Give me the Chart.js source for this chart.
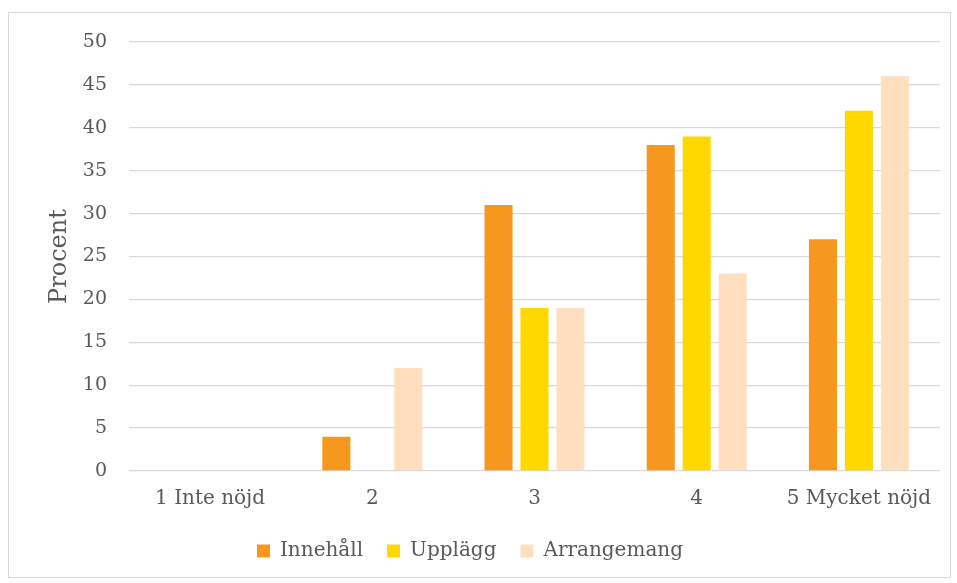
<!DOCTYPE html>
<html>
<head>
<meta charset="utf-8">
<script src="https://cdn.jsdelivr.net/npm/chart.js@4/dist/chart.umd.min.js"></script>
<style>
  html, body { margin: 0; padding: 0; background: #fff; }
  #frame { position: absolute; left: 8px; top: 12px; width: 941px; height: 564px; border: 1px solid #d9d9d9; }
  #wrap { position: absolute; left: 0; top: 0; width: 957px; height: 583px; }
</style>
</head>
<body>
<div id="frame"></div>
<div id="wrap"><canvas id="chart" width="957" height="583"></canvas></div>
<script>
    const categories = ['1 Inte nöjd', '2', '3', '4', '5 Mycket nöjd'];
    const innehall = [0, 4, 31, 38, 27];
    const upplagg = [0, 0, 19, 39, 42];
    const arrangemang = [0, 12, 19, 23, 46];
    const seriesNames = ['Innehåll', 'Upplägg', 'Arrangemang'];
    const seriesColors = ['#F7981E', '#FFD800', '#FFDFBF'];

    const font = 'DejaVu Serif';
    const textColor = '#595959';

    document.addEventListener('DOMContentLoaded', function() {
        const canvas = document.getElementById('chart');

        new Chart(canvas, {
            type: 'bar',
            data: {
                labels: categories,
                datasets: [innehall, upplagg, arrangemang].map((values, i) => ({
                    label: seriesNames[i],
                    data: values,
                    backgroundColor: seriesColors[i],
                    borderWidth: 0,
                    categoryPercentage: 0.665,
                    barPercentage: 0.78
                }))
            },
            options: {
                responsive: false,
                animation: false,
                layout: {
                    padding: { left: 0, right: 17, top: 42, bottom: 12 }
                },
                scales: {
                    x: {
                        grid: { display: false },
                        border: { display: false },
                        ticks: {
                            color: textColor,
                            font: { family: font, size: 20 },
                            padding: 8,
                            maxRotation: 0
                        },
                        afterFit: scale => { scale.height = 46; }
                    },
                    y: {
                        min: 0,
                        max: 50,
                        grid: { color: '#d9d9d9', lineWidth: 1.3, drawTicks: false },
                        border: { display: false },
                        ticks: {
                            stepSize: 5,
                            color: textColor,
                            font: { family: font, size: 19 },
                            padding: 22
                        },
                        title: {
                            display: true,
                            text: 'Procent',
                            color: textColor,
                            font: { family: font, size: 24 },
                            padding: { top: 45, bottom: 0 }
                        },
                        afterFit: scale => { scale.width = 129; }
                    }
                },
                plugins: {
                    legend: {
                        position: 'bottom',
                        labels: {
                            color: textColor,
                            font: { family: font, size: 20 },
                            boxWidth: 13,
                            boxHeight: 13,
                            padding: 24
                        }
                    },
                    tooltip: { enabled: false }
                }
            }
        });
    });
</script>
</body>
</html>
